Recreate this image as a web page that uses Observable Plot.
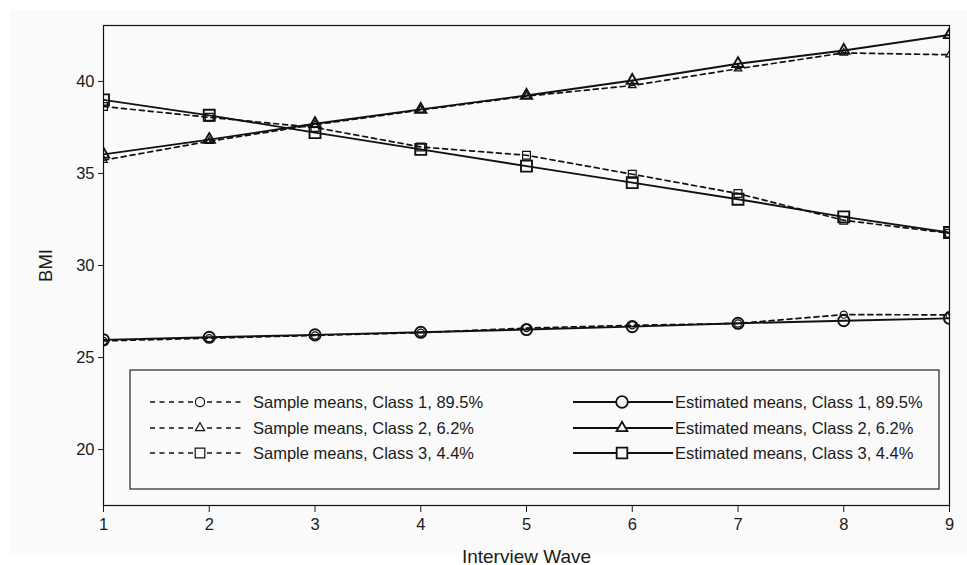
<!DOCTYPE html>
<html>
<head>
<meta charset="utf-8">
<script src="https://cdn.jsdelivr.net/npm/d3@7"></script>
<script src="https://cdn.jsdelivr.net/npm/@observablehq/plot@0.6"></script>
<style>
  html, body { margin: 0; padding: 0; background: #ffffff; }
  #bg { position: absolute; left: 10px; top: 10px; width: 957px; height: 545px; background: #fafafa; }
  #chart { position: absolute; left: 0; top: 0; width: 967px; height: 565px; }
</style>
</head>
<body>
<div id="bg"></div>
<div id="chart"></div>
<script>
// ---- data ----
const waves = [1, 2, 3, 4, 5, 6, 7, 8, 9];
const classes = ["Class 1", "Class 2", "Class 3"];
const shares = ["89.5%", "6.2%", "4.4%"];
const symbols = ["circle", "triangle", "square"];

const sampleClass1 = [25.9, 26.05, 26.2, 26.35, 26.6, 26.75, 26.85, 27.33, 27.32];
const sampleClass2 = [35.72, 36.75, 37.65, 38.45, 39.2, 39.78, 40.69, 41.55, 41.45];
const sampleClass3 = [38.64, 38.05, 37.5, 36.44, 35.99, 34.96, 33.91, 32.46, 31.75];

const estClass1 = [25.96, 26.1, 26.23, 26.37, 26.52, 26.68, 26.86, 27.0, 27.13];
const estClass2 = [36.04, 36.84, 37.7, 38.48, 39.24, 40.05, 40.96, 41.68, 42.53];
const estClass3 = [39.0, 38.16, 37.22, 36.31, 35.4, 34.5, 33.6, 32.64, 31.79];

const yTicks = [20, 25, 30, 35, 40];

// ---- styles (marker radii by class) ----
const rSample = {"Class 1": 3.6, "Class 2": 2.8, "Class 3": 4.4};
const rEst = {"Class 1": 5.6, "Class 2": 4.2, "Class 3": 6.2};
const rSampleLegend = {"Class 1": 4.6, "Class 2": 3.4, "Class 3": 5.4};
const rEstLegend = {"Class 1": 5.8, "Class 2": 4.0, "Class 3": 6.0};

// ---- tables ----
const sampleSeries = [sampleClass1, sampleClass2, sampleClass3];
const estSeries = [estClass1, estClass2, estClass3];
const sampleRows = [];
const estRows = [];
classes.forEach((c, i) => {
  waves.forEach((w, j) => {
    sampleRows.push({wave: w, bmi: sampleSeries[i][j], cls: c});
    estRows.push({wave: w, bmi: estSeries[i][j], cls: c});
  });
});

const font = "'Liberation Sans', Arial, sans-serif";

const plot = Plot.plot({
  width: 967,
  height: 565,
  marginLeft: 103,
  marginRight: 18,
  marginTop: 25,
  marginBottom: 60,
  style: {background: "transparent", fontFamily: font, fontSize: "16.5px", color: "#1a1a1a"},
  x: {domain: [1, 9]},
  y: {domain: [16.96, 43.04]},
  r: {type: "identity"},
  symbol: {domain: classes, range: symbols},
  marks: [
    Plot.frame({stroke: "#111", strokeWidth: 1.2}),
    Plot.axisX({ticks: waves, tickSize: 7, tickPadding: 6, tickFormat: d3.format("d"),
      fontSize: 16.5, label: null}),
    Plot.axisX({ticks: [], tickSize: 0, label: "Interview Wave", labelAnchor: "center",
      labelArrow: "none", labelOffset: 57, fontSize: 19}),
    Plot.axisY({ticks: yTicks, tickSize: 5, tickPadding: 4, fontSize: 16.5, label: null}),
    Plot.axisY({ticks: [], tickSize: 0, label: "BMI", labelAnchor: "center",
      labelArrow: "none", labelOffset: 65, fontSize: 18.5}),
    Plot.line(sampleRows, {x: "wave", y: "bmi", z: "cls", stroke: "#111", strokeWidth: 1.7,
      strokeDasharray: "5,4", clip: true}),
    Plot.line(estRows, {x: "wave", y: "bmi", z: "cls", stroke: "#111", strokeWidth: 1.9, clip: true}),
    Plot.dot(sampleRows, {x: "wave", y: "bmi", symbol: "cls", r: d => rSample[d.cls], stroke: "#111",
      strokeWidth: 1.2, fill: "none", clip: true}),
    Plot.dot(estRows, {x: "wave", y: "bmi", symbol: "cls", r: d => rEst[d.cls], stroke: "#111",
      strokeWidth: 1.9, fill: "none", clip: true})
  ]
});

document.getElementById("chart").appendChild(plot);

// ---- legend (inside plot area) ----
const svg = d3.select(plot);
const lg = svg.append("g").attr("font-family", font).attr("font-size", 16.5)
  .attr("fill", "#1a1a1a").attr("text-anchor", "start");
lg.append("rect").attr("x", 130).attr("y", 370).attr("width", 809).attr("height", 119)
  .attr("fill", "#fafafa").attr("stroke", "#222").attr("stroke-width", 1.2);

const rowY = [402, 428, 453];
const d3sym = {circle: d3.symbolCircle, triangle: d3.symbolTriangle, square: d3.symbolSquare};
classes.forEach((c, i) => {
  const y = rowY[i];
  // sample means
  lg.append("line").attr("x1", 150).attr("x2", 243).attr("y1", y).attr("y2", y)
    .attr("stroke", "#111").attr("stroke-width", 1.6).attr("stroke-dasharray", "5,4.5");
  lg.append("path").attr("transform", `translate(200,${y})`)
    .attr("d", d3.symbol(d3sym[symbols[i]], Math.PI * rSampleLegend[c] ** 2)())
    .attr("fill", "#fafafa").attr("stroke", "#111").attr("stroke-width", 1.2);
  lg.append("text").attr("x", 253).attr("y", y).attr("dy", "0.35em")
    .attr("text-anchor", "start")
    .text(`Sample means, ${c}, ${shares[i]}`);
  // estimated means
  lg.append("line").attr("x1", 573).attr("x2", 673).attr("y1", y).attr("y2", y)
    .attr("stroke", "#111").attr("stroke-width", 1.8);
  lg.append("path").attr("transform", `translate(622,${y})`)
    .attr("d", d3.symbol(d3sym[symbols[i]], Math.PI * rEstLegend[c] ** 2)())
    .attr("fill", "#fafafa").attr("stroke", "#111").attr("stroke-width", 1.8);
  lg.append("text").attr("x", 675).attr("y", y).attr("dy", "0.35em")
    .attr("text-anchor", "start")
    .text(`Estimated means, ${c}, ${shares[i]}`);
});
</script>
</body>
</html>
